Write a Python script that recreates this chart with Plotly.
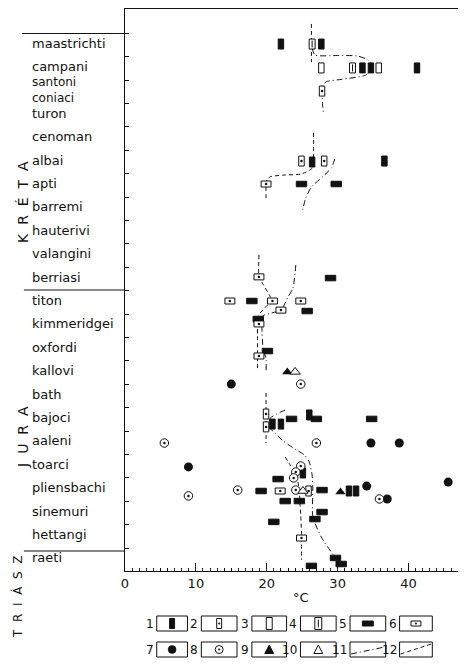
import plotly.graph_objects as go

# ---------------- data ----------------
stages = ["maastrichti", "campani", "santoni<br>coniaci", "turon", "cenoman", "albai",
          "apti", "barremi", "hauterivi", "valangini", "berriasi", "titon",
          "kimmeridgei", "oxfordi", "kallovi", "bath", "bajoci", "aaleni",
          "toarci", "pliensbachi", "sinemuri", "hettangi", "raeti"]
x_ticks = [0, 10, 20, 30, 40]

# 1 filled vertical rectangle
t1_x = [22.0, 27.7, 33.5, 34.7, 41.2, 26.4, 36.6, 20.8, 22.0, 26.0, 25.1, 31.6, 32.6]
t1_y = [-0.04, -0.04, 0.98, 0.98, 0.98, 5.0, 4.96, 16.2, 16.2, 15.81, 18.29, 19.06, 19.06]
# 2 open vertical rectangle with dot
t2_x = [27.8, 24.9, 28.1, 19.9, 19.9, 25.9]
t2_y = [1.97, 4.96, 4.96, 15.77, 16.32, 19.06]
# 3 open vertical rectangle
t3_x = [27.7, 35.8]
t3_y = [0.98, 0.98]
# 4 open vertical rectangle with inner line
t4_x = [26.4, 32.1]
t4_y = [-0.04, 0.98]
# 5 filled horizontal rectangle
t5_x = [24.9, 29.8, 29.0, 17.9, 25.7, 18.8, 20.1, 23.5, 27.0, 34.8, 21.6, 19.2,
        27.8, 22.6, 24.6, 27.8, 21.0, 26.8, 29.7, 30.5, 26.3]
t5_y = [5.94, 5.94, 9.96, 10.94, 11.37, 11.71, 13.08, 15.98, 15.98, 15.98, 18.55, 19.06,
        19.02, 19.49, 19.49, 19.96, 20.38, 20.26, 21.92, 22.18, 22.26]
# 6 open horizontal rectangle with dot
t6_x = [19.9, 18.9, 14.8, 20.8, 24.8, 22.0, 18.9, 18.9, 21.9, 24.9]
t6_y = [5.94, 9.91, 10.94, 10.94, 10.94, 11.33, 11.92, 13.29, 19.06, 21.07]
# 7 filled circle
t7_x = [15.0, 34.7, 38.7, 8.95, 34.1, 45.6, 37.0]
t7_y = [14.49, 17.01, 17.01, 18.03, 18.85, 18.68, 19.4]
# 8 open circle with dot
t8_x = [24.8, 5.55, 27.0, 24.8, 24.1, 23.8, 8.95, 15.9, 24.1, 35.9]
t8_y = [14.49, 17.01, 17.01, 17.99, 18.25, 18.5, 19.27, 19.02, 19.02, 19.4]
# 9 filled triangle
t9_x = [22.9, 30.4]
t9_y = [13.97, 19.1]
# 10 open triangle
t10_x = [24.0, 25.1]
t10_y = [13.97, 19.06]

# 12 dashed trend lines
dash_lines = [
    ([26.3, 26.3], [-0.9, 0.73]),
    ([26.6, 26.6, 26.4, 24.9, 22.3, 20.5, 20.0, 19.9, 19.9],
     [3.76, 4.49, 5.26, 5.51, 5.56, 5.63, 5.77, 5.94, 6.58]),
    ([18.9, 18.9, 19.3, 20.5, 20.8, 19.8, 19.2, 18.7, 18.7, 18.7, 18.7, 18.7],
     [8.97, 9.92, 10.13, 10.76, 10.94, 11.2, 11.41, 11.62, 11.92, 12.61, 13.29, 13.93]),
    ([19.9, 19.9], [14.87, 17.01]),
    ([22.6, 23.3, 23.9, 24.4, 24.6, 24.7, 24.8, 24.9, 24.9],
     [17.61, 17.95, 18.25, 18.68, 19.1, 19.66, 20.13, 20.86, 22.01]),
]
# 11 dash-dot trend lines
dashdot_lines = [
    ([26.4, 26.8, 30.0, 32.8, 34.3, 34.9, 34.0, 30.5, 28.4, 27.7, 27.8, 27.9, 28.0],
     [0.13, 0.43, 0.45, 0.47, 0.64, 0.9, 1.28, 1.47, 1.57, 1.78, 2.14, 2.65, 2.91]),
    ([29.6, 29.1, 27.7, 26.3, 25.5, 25.0],
     [4.87, 5.26, 5.68, 6.07, 6.54, 7.14]),
    ([24.1, 24.0, 23.7, 23.0, 22.3, 22.0, 20.5, 19.4, 19.2, 19.3, 19.5, 19.9, 19.9],
     [9.4, 9.74, 10.39, 10.77, 11.2, 11.33, 11.47, 11.58, 11.75, 12.05, 13.03, 13.38, 13.93]),
    ([22.6, 20.5, 20.2, 21.0, 22.3, 24.0, 25.3, 26.0, 26.4, 26.5, 26.5, 27.7, 29.6],
     [15.6, 15.94, 16.28, 16.54, 16.92, 17.27, 17.52, 17.82, 18.38, 19.02, 20.17, 21.03, 21.88]),
]

periods = ["K  R  É  T  A", "J  U  R  A", "T  R  I  Á  S  Z"]
legend_nums = ["1", "2", "3", "4", "5", "6", "7", "8", "9", "10", "11", "12"]

# ---------------- geometry ----------------
OFF = 8                     # page body margin of the browser
W, H = 466 - OFF, 665 - OFF
L_PX, R_PX, T_PX, B_PX = 122.0, 466.0, 9.0, 571.0   # window pixels of plot area
SX = 7.15      # px per degC
SY = 23.4      # px per stage
Y0_PX = 45.0   # window pixel row of stage 0
X_RANGE = [0, (R_PX - L_PX) / SX]
Y_RANGE = [(B_PX - Y0_PX) / SY, (T_PX - Y0_PX) / SY]
INK = "#111111"
FONT = "DejaVu Sans"


def fx(px):
    return (px - OFF) / W


def fy(py):
    return 1 - (py - OFF) / H


def rect_poly(xs, ys, wpx, hpx):
    dx, dy = wpx / 2 / SX, hpx / 2 / SY
    px, py = [], []
    for x, y in zip(xs, ys):
        px += [x - dx, x + dx, x + dx, x - dx, x - dx, None]
        py += [y - dy, y - dy, y + dy, y + dy, y - dy, None]
    return px, py


fig = go.Figure()

# trend lines
for xs, ys in dash_lines:
    fig.add_trace(go.Scatter(x=xs, y=ys, mode="lines",
                             line=dict(color=INK, width=1, dash="4px,3px", shape="spline", smoothing=0.6),
                             hoverinfo="skip"))
for xs, ys in dashdot_lines:
    fig.add_trace(go.Scatter(x=xs, y=ys, mode="lines",
                             line=dict(color=INK, width=1, dash="6px,3px,1px,3px", shape="spline", smoothing=0.6),
                             hoverinfo="skip"))


def add_rects(xs, ys, wpx, hpx, filled):
    px, py = rect_poly(xs, ys, wpx, hpx)
    fig.add_trace(go.Scatter(x=px, y=py, mode="lines", fill="toself",
                             fillcolor=INK if filled else "white",
                             line=dict(color=INK, width=1), hoverinfo="skip"))


def add_dots(xs, ys):
    fig.add_trace(go.Scatter(x=xs, y=ys, mode="markers",
                             marker=dict(size=2.5, color=INK), hoverinfo="skip"))


add_rects(t1_x, t1_y, 5.5, 10, True)
add_rects(t2_x, t2_y, 5.5, 10, False)
add_dots(t2_x, t2_y)
add_rects(t3_x, t3_y, 5.5, 10, False)
add_rects(t4_x, t4_y, 6, 10, False)
lx, ly = [], []
for x, y in zip(t4_x, t4_y):
    lx += [x, x, None]
    ly += [y - 3.5 / SY, y + 3.5 / SY, None]
fig.add_trace(go.Scatter(x=lx, y=ly, mode="lines", line=dict(color=INK, width=1), hoverinfo="skip"))
add_rects(t5_x, t5_y, 10.5, 5.5, True)
add_rects(t6_x, t6_y, 10, 6, False)
add_dots(t6_x, t6_y)

fig.add_trace(go.Scatter(x=t7_x, y=t7_y, mode="markers",
                         marker=dict(symbol="circle", size=9, color=INK, line=dict(width=0)),
                         hoverinfo="skip"))
fig.add_trace(go.Scatter(x=t8_x, y=t8_y, mode="markers",
                         marker=dict(symbol="circle", size=8.5, color="white", line=dict(width=1, color=INK)),
                         hoverinfo="skip"))
add_dots(t8_x, t8_y)
fig.add_trace(go.Scatter(x=t9_x, y=t9_y, mode="markers",
                         marker=dict(symbol="triangle-up", size=9, color=INK, line=dict(width=0)),
                         hoverinfo="skip"))
fig.add_trace(go.Scatter(x=t10_x, y=t10_y, mode="markers",
                         marker=dict(symbol="triangle-up", size=9, color="white", line=dict(width=1, color=INK)),
                         hoverinfo="skip"))

# ---------------- decorations ----------------
shapes = []
annots = []

for i, name in enumerate(stages):
    annots.append(dict(x=fx(26), xref="paper", y=i, yref="y", yshift=2, text=name,
                       showarrow=False, xanchor="left", yanchor="middle", align="left",
                       font=dict(family=FONT, size=13 if "<br>" not in name else 12, color=INK)))

for py, x0 in [(33.5, 18), (290, 20), (551, 20)]:
    shapes.append(dict(type="line", xref="paper", yref="paper", x0=fx(x0), x1=fx(L_PX),
                       y0=fy(py), y1=fy(py), line=dict(color=INK, width=1)))
for txt, px, py, sz in zip(periods, [19, 19, 13], [202, 437, 597], [14, 14, 12]):
    annots.append(dict(x=fx(px), y=fy(py), xref="paper", yref="paper", text=txt, textangle=-90,
                       showarrow=False, xanchor="center", yanchor="middle",
                       font=dict(family=FONT, size=sz, color=INK)))

annots.append(dict(x=fx(300), y=fy(597), xref="paper", yref="paper", text="°C", showarrow=False,
                   xanchor="center", yanchor="middle",
                   font=dict(family=FONT, size=13, color=INK)))

# legend
box_x0 = [154, 199, 250, 299, 349, 399]
box_x1 = [185, 235, 285, 335, 385, 432]
rows = [(616, 631), (642, 657)]
for n, lab in enumerate(legend_nums):
    r, c = divmod(n, 6)
    x0, x1 = box_x0[c], box_x1[c]
    y0, y1 = rows[r]
    cx, cy = (x0 + x1) / 2, (y0 + y1) / 2
    shapes.append(dict(type="rect", xref="paper", yref="paper", x0=fx(x0), x1=fx(x1),
                       y0=fy(y0), y1=fy(y1), line=dict(color=INK, width=1)))
    annots.append(dict(x=fx(x0 - 1), y=fy(cy), xref="paper", yref="paper", text=lab,
                       showarrow=False, xanchor="right", yanchor="middle",
                       font=dict(family=FONT, size=12, color=INK)))

    def box(w, h, filled):
        shapes.append(dict(type="rect", xref="paper", yref="paper",
                           x0=fx(cx - w / 2), x1=fx(cx + w / 2), y0=fy(cy - h / 2), y1=fy(cy + h / 2),
                           fillcolor=INK if filled else "white", line=dict(color=INK, width=1)))

    def dot(rad=1.0):
        shapes.append(dict(type="circle", xref="paper", yref="paper",
                           x0=fx(cx - rad), x1=fx(cx + rad), y0=fy(cy - rad), y1=fy(cy + rad),
                           fillcolor=INK, line=dict(color=INK, width=0.5)))

    def tri(filled):
        path = "M{},{} L{},{} L{},{} Z".format(fx(cx - 4.5), fy(cy + 4), fx(cx + 4.5), fy(cy + 4),
                                              fx(cx), fy(cy - 4.5))
        shapes.append(dict(type="path", xref="paper", yref="paper", path=path,
                           fillcolor=INK if filled else "white", line=dict(color=INK, width=1)))

    if lab == "1":
        box(5, 10, True)
    elif lab == "2":
        box(5, 10, False); dot(0.8)
    elif lab == "3":
        box(6, 12, False)
    elif lab == "4":
        box(7, 12, False)
        shapes.append(dict(type="line", xref="paper", yref="paper", x0=fx(cx), x1=fx(cx),
                           y0=fy(cy - 4), y1=fy(cy + 4), line=dict(color=INK, width=1)))
    elif lab == "5":
        box(11, 5, True)
    elif lab == "6":
        box(10, 5, False); dot(0.8)
    elif lab == "7":
        dot(4)
    elif lab == "8":
        shapes.append(dict(type="circle", xref="paper", yref="paper",
                           x0=fx(cx - 4), x1=fx(cx + 4), y0=fy(cy - 4), y1=fy(cy + 4),
                           line=dict(color=INK, width=1)))
        dot(0.8)
    elif lab == "9":
        tri(True)
    elif lab == "10":
        tri(False)
    elif lab == "11":
        shapes.append(dict(type="line", xref="paper", yref="paper", x0=fx(x0 + 1), x1=fx(x1 - 1),
                           y0=fy(y1 - 3), y1=fy(y0 + 5),
                           line=dict(color=INK, width=1, dash="6px,3px,1px,3px")))
    elif lab == "12":
        shapes.append(dict(type="line", xref="paper", yref="paper", x0=fx(x0 + 1), x1=fx(x1 - 1),
                           y0=fy(y1 - 3), y1=fy(y0 + 2),
                           line=dict(color=INK, width=1, dash="4px,3px")))

fig.update_layout(
    width=W, height=H, autosize=False,
    margin=dict(l=0, r=0, t=0, b=0),
    paper_bgcolor="white", plot_bgcolor="rgba(0,0,0,0)",
    showlegend=False,
    xaxis=dict(domain=[fx(L_PX), fx(R_PX)], range=X_RANGE, showline=True, mirror=True,
               linecolor=INK, linewidth=1, ticks="inside", ticklen=8, tickcolor=INK,
               tickvals=x_ticks, ticktext=[str(v) for v in x_ticks],
               minor=dict(dtick=1, tick0=0, ticks="inside", ticklen=3, tickcolor=INK),
               showgrid=False, zeroline=False,
               tickfont=dict(family=FONT, size=13, color=INK)),
    yaxis=dict(domain=[fy(B_PX), fy(T_PX)], range=Y_RANGE, showline=True,
               linecolor=INK, linewidth=1, ticks="inside", ticklen=4, tickcolor=INK,
               tickvals=[i - 0.5 for i in range(len(stages))], showticklabels=False,
               showgrid=False, zeroline=False),
    shapes=shapes,
    annotations=annots,
)

fig.write_html("out.html")
